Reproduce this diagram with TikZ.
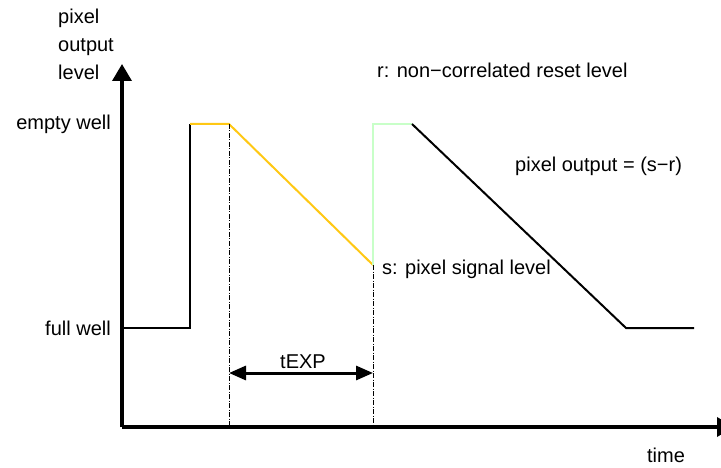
\documentclass[tikz,border=0pt]{standalone}
\usepackage{fontspec}
\setmainfont{Liberation Sans}
\usetikzlibrary{arrows.meta}
\definecolor{sigyellow}{RGB}{255,200,20}
\definecolor{siggreen}{RGB}{200,255,200}
\tikzset{
  lbl/.style={inner sep=0pt, font=\fontsize{20}{28}\selectfont},
  axis/.style={line width=3.5pt, -{Triangle[length=17pt,width=19pt]}},
  sig/.style={line width=2pt},
  guide/.style={line width=0.8pt, dash pattern=on 5pt off 1.5pt on 1pt off 1.5pt},
  dimarrow/.style={line width=3pt, {Triangle[length=17pt,width=14pt]}-{Triangle[length=17pt,width=14pt]}}
}
\begin{document}
\begin{tikzpicture}[x=1pt,y=-1pt]
\useasboundingbox (0,0) rectangle (721,468);
% axes
\coordinate (O) at (122,427);
\coordinate (Ytop) at (122,64);
\coordinate (Xend) at (734,427);
\draw[axis] (O) -- (Ytop);
\draw[axis] (O) -- (Xend);
% signal points
\coordinate (p0) at (122,328);
\coordinate (p1) at (190,328);
\coordinate (p2) at (190,124);
\coordinate (p3) at (229,124);
\coordinate (p4) at (373,265);
\coordinate (p5) at (373,124);
\coordinate (p6) at (412,124);
\coordinate (p7) at (626,328);
\coordinate (p8) at (694,328);
\draw[sig] (p0) -- (p1) -- (p2);
\draw[sig, sigyellow] (p2) -- (p3) -- (p4);
\draw[sig, siggreen] (p4) -- (p5) -- (p6);
\draw[sig] (p6) -- (p7) -- (p8);
% guides
\coordinate (g1) at (229,427);
\coordinate (g2) at (373,427);
\draw[guide] (p3) -- (g1);
\draw[guide] (p4) -- (g2);
% tEXP
\coordinate (t1) at (229,373);
\coordinate (t2) at (373,373);
\draw[dimarrow] (t1) -- (t2);
\node[lbl, anchor=base] (texp) at (303,368) {tEXP};
% labels
\node[lbl, anchor=base west] (ylab1) at (58,24) {pixel};
\node[lbl, anchor=base west] (ylab2) at (58,52) {output};
\node[lbl, anchor=base west] (ylab3) at (58,80) {level};
\node[lbl, anchor=base east] (empty) at (111,130) {empty well};
\node[lbl, anchor=base east] (full) at (111,335) {full well};
\node[lbl, anchor=base west] (rlab) at (377,78) {r: non\textminus correlated reset level};
\node[lbl, anchor=base west] (pout) at (515,172) {pixel output = (s\textminus r)};
\node[lbl, anchor=base west] (slab) at (382,274) {s: pixel signal level};
\node[lbl, anchor=base] (time) at (666,462) {time};
\end{tikzpicture}
\end{document}
